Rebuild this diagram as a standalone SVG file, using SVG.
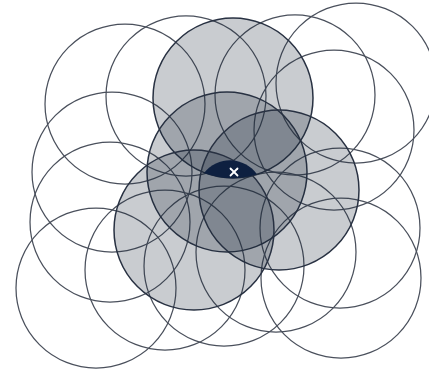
<svg xmlns="http://www.w3.org/2000/svg" width="429" height="371" viewBox="0 0 429 371">
<style>
.ring{fill:none;stroke:#4a505c;stroke-width:1.25}
.disc{fill:#1e2a3c;fill-opacity:0.24;stroke:#283142;stroke-width:1.5}
.core{fill:#0e2040}
.mark{stroke:#ffffff;stroke-width:1.8;stroke-linecap:round}
</style>
<rect width="429" height="371" fill="#ffffff"/>
<g id="rings">
<g id="ringA"><circle class="ring" cx="125" cy="104" r="80"/></g>
<g id="ringB"><circle class="ring" cx="186" cy="96" r="80"/></g>
<g id="ringD"><circle class="ring" cx="295" cy="95" r="80"/></g>
<g id="ringC"><circle class="ring" cx="356" cy="83" r="80"/></g>
<g id="ringE"><circle class="ring" cx="334" cy="130" r="80"/></g>
<g id="ringK"><circle class="ring" cx="112" cy="172" r="80"/></g>
<g id="ringL"><circle class="ring" cx="110" cy="222" r="80"/></g>
<g id="ringI"><circle class="ring" cx="96" cy="288" r="80"/></g>
<g id="ringN"><circle class="ring" cx="165" cy="270" r="80"/></g>
<g id="ringO"><circle class="ring" cx="224" cy="266" r="80"/></g>
<g id="ringH"><circle class="ring" cx="276" cy="252" r="80"/></g>
<g id="ringG"><circle class="ring" cx="340" cy="228" r="80"/></g>
<g id="ringF"><circle class="ring" cx="341" cy="278" r="80"/></g>
</g>
<g id="discs">
<g id="discT"><circle class="disc" cx="233" cy="98" r="80"/></g>
<g id="discM"><circle class="disc" cx="227" cy="172" r="80"/></g>
<g id="discR"><circle class="disc" cx="279" cy="190" r="80"/></g>
<g id="discBL"><circle class="disc" cx="194" cy="230" r="80"/></g>
</g>
<g id="core"><path class="core" d="M204,173 A33,33 0 0 1 257,174.3 A80,80 0 0 1 204,173 Z"/></g>
<g id="marker" class="mark"><line x1="230.5" y1="168.5" x2="237.5" y2="175.5"/><line x1="237.5" y1="168.5" x2="230.5" y2="175.5"/></g>
</svg>
